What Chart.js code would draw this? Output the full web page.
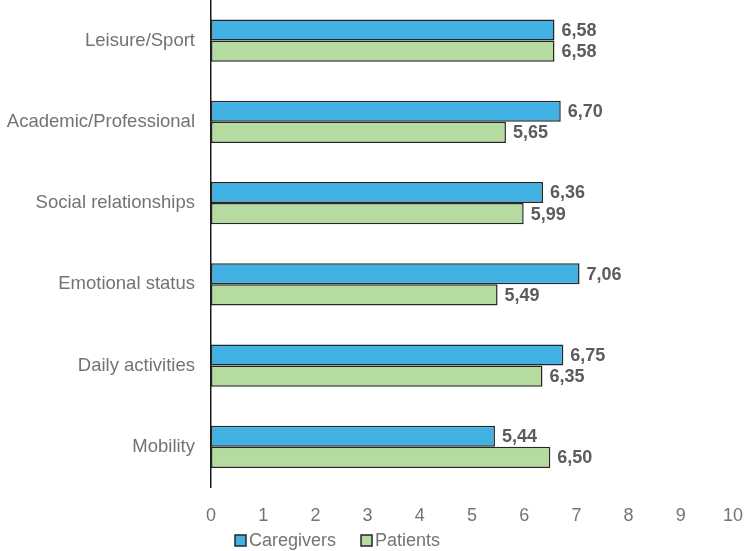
<!DOCTYPE html>
<html>
<head>
<meta charset="utf-8">
<script src="https://cdn.jsdelivr.net/npm/chart.js@4"></script>
<style>
  html, body { margin: 0; padding: 0; background: #fff; }
  #wrap { width: 744px; height: 551px; }
</style>
</head>
<body>
<div id="wrap"><canvas id="chart"></canvas></div>
<script>
// Quality-of-life domains, top to bottom
var categories = ['Leisure/Sport', 'Academic/Professional', 'Social relationships', 'Emotional status', 'Daily activities', 'Mobility'];
var caregivers = [6.58, 6.70, 6.36, 7.06, 6.75, 5.44];
var patients = [6.58, 5.65, 5.99, 5.49, 6.35, 6.50];
var xTicks = [0, 1, 2, 3, 4, 5, 6, 7, 8, 9, 10];

var grey = '#737373';
var font = 'Liberation Sans, Arial, sans-serif';

// value labels at end of bars, comma decimal
var valueLabels = {
  id: 'valueLabels',
  afterDatasetsDraw: function(chart) {
    var ctx = chart.ctx;
    ctx.save();
    ctx.font = 'bold 18px ' + font;
    ctx.fillStyle = '#5c5c5c';
    ctx.textAlign = 'left';
    ctx.textBaseline = 'middle';
    chart.data.datasets.forEach(function(ds, i) {
      chart.getDatasetMeta(i).data.forEach(function(bar, j) {
        ctx.fillText(ds.data[j].toFixed(2).replace('.', ','), bar.x + 7, bar.y + 1);
      });
    });
    ctx.restore();
  }
};

// legend drawn under the axis, small squares close to the text
var bottomLegend = {
  id: 'bottomLegend',
  afterDraw: function(chart) {
    var ctx = chart.ctx;
    var x = 235, y = 541;
    ctx.save();
    ctx.font = '18px ' + font;
    ctx.textBaseline = 'middle';
    chart.data.datasets.forEach(function(ds) {
      ctx.fillStyle = ds.backgroundColor;
      ctx.fillRect(x, y - 6, 11, 11);
      ctx.strokeStyle = '#262626';
      ctx.lineWidth = 1.5;
      ctx.strokeRect(x, y - 6, 11, 11);
      ctx.fillStyle = grey;
      ctx.fillText(ds.label, x + 14, y);
      x += 14 + ctx.measureText(ds.label).width + 25;
    });
    ctx.restore();
  }
};

new Chart(document.getElementById('chart'), {
  type: 'bar',
  data: {
    labels: categories,
    datasets: [{
      label: 'Caregivers',
      data: caregivers,
      backgroundColor: '#41b0e2',
      borderColor: '#262626',
      borderWidth: 1.5,
      borderSkipped: false
    }, {
      label: 'Patients',
      data: patients,
      backgroundColor: '#b5dba0',
      borderColor: '#262626',
      borderWidth: 1.5,
      borderSkipped: false
    }]
  },
  options: {
    indexAxis: 'y',
    responsive: true,
    maintainAspectRatio: false,
    animation: false,
    layout: { padding: { top: 0, right: 11, bottom: 6, left: 0 } },
    datasets: { bar: { categoryPercentage: 0.52, barPercentage: 1 } },
    scales: {
      x: {
        min: 0,
        max: 10,
        afterBuildTicks: function(scale) {
          scale.ticks = xTicks.map(function(v) { return { value: v }; });
        },
        afterFit: function(scale) { scale.paddingLeft = 0; scale.paddingRight = 0; },
        grid: { display: false, drawTicks: false },
        border: { display: false },
        ticks: { color: grey, font: { family: font, size: 18 }, padding: 18 }
      },
      y: {
        afterFit: function(scale) { scale.width = 211; scale.paddingTop = 0; scale.paddingBottom = 0; },
        grid: { display: false, drawTicks: false },
        border: { display: true, color: '#1a1a1a', width: 1.5 },
        ticks: { color: grey, font: { family: font, size: 18.5 }, padding: 16 }
      }
    },
    plugins: {
      legend: { display: false },
      tooltip: { enabled: false }
    }
  },
  plugins: [valueLabels, bottomLegend]
});
</script>
</body>
</html>
